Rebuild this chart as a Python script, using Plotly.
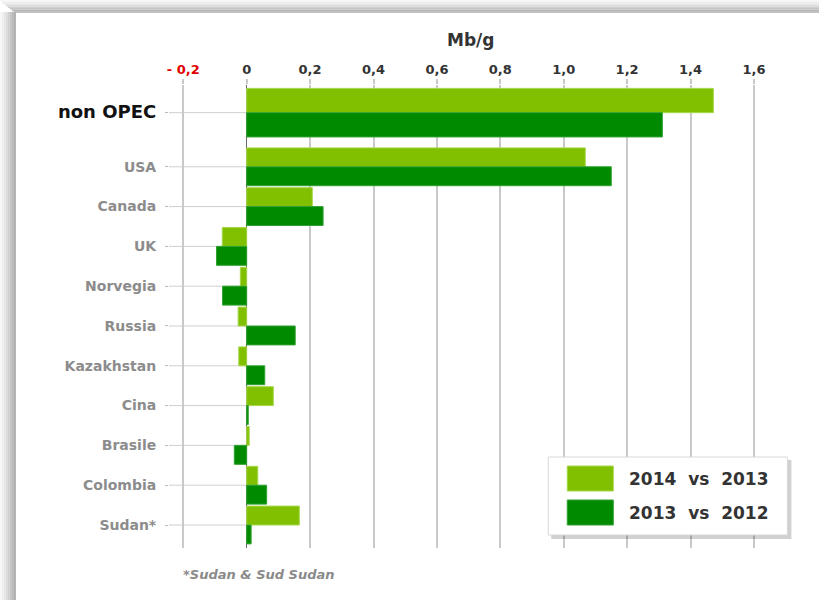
import plotly.graph_objects as go

# ---- data ----
categories = ["non OPEC", "USA", "Canada", "UK", "Norvegia", "Russia",
              "Kazakhstan", "Cina", "Brasile", "Colombia", "Sudan*"]
series_names = ["2014  vs  2013", "2013  vs  2012"]
v_2014_vs_2013 = [1.472, 1.068, 0.207, -0.077, -0.020, -0.027, -0.025, 0.084, 0.008, 0.035, 0.166]
v_2013_vs_2012 = [1.311, 1.150, 0.241, -0.095, -0.076, 0.153, 0.057, 0.005, -0.039, 0.063, 0.014]
x_tickvals = [-0.2, 0, 0.2, 0.4, 0.6, 0.8, 1.0, 1.2, 1.4, 1.6]
x_ticklabels = ["- 0,2", "0", "0,2", "0,4", "0,6", "0,8", "1,0", "1,2", "1,4", "1,6"]
footnote = "*Sudan & Sud Sudan"
axis_title = "Mb/g"

# ---- layout helpers ----
W, H = 819, 600
L, R, T, B = 169, 791.6, 85, 548
PW, PH = R - L, B - T
def px(xp): return (xp - L) / PW
def py(yp): return (B - yp) / PH

LIGHT = "#80c000"
DARK = "#008a00"

n = len(categories)
# positions: bottom category at 0, extra gap above the total row
pos = []
for i, c in enumerate(categories):
    p = n - 1 - i
    if i == 0:
        p = (n - 2) + 1.36
    pos.append(p)
widths = [0.61 if i == 0 else 0.475 for i in range(n)]

fig = go.Figure()
fig.add_trace(go.Bar(
    y=pos, x=v_2014_vs_2013, orientation="h", name=series_names[0],
    width=widths, offset=[0] * n,
    marker=dict(color=LIGHT, line=dict(color="#a6d84a", width=1)),
    showlegend=False))
fig.add_trace(go.Bar(
    y=pos, x=v_2013_vs_2012, orientation="h", name=series_names[1],
    width=widths, offset=[-w for w in widths],
    marker=dict(color=DARK, line=dict(color="#2fa02f", width=1)),
    showlegend=False))

xmin, xmax = -0.245, 1.72
ticktext_y = []
for i, c in enumerate(categories):
    if i == 0:
        ticktext_y.append('<span style="font-size:18px;color:#111111">%s</span>' % c)
    else:
        ticktext_y.append(c)

xt = []
for v, t in zip(x_tickvals, x_ticklabels):
    if v < 0:
        xt.append('<span style="color:#e00000">%s</span>' % t)
    else:
        xt.append(t)

shapes = []
# frame shadow (left and top)
grays = ["#f7f7f7", "#efefef", "#e6e6e6", "#dcdcdc", "#d0d0d0", "#c4c4c4", "#b8b8b8", "#aeaeae"]
for k, g in enumerate(grays):
    shapes.append(dict(type="rect", xref="paper", yref="paper", layer="below",
                       x0=px(k * 2), x1=px(k * 2 + 2), y0=py(12), y1=py(H),
                       fillcolor=g, line=dict(width=0)))
    shapes.append(dict(type="rect", xref="paper", yref="paper", layer="below",
                       x0=px(k * 2), x1=px(W), y0=py(k * 1.6), y1=py(k * 1.6 + 1.6),
                       fillcolor=g, line=dict(width=0)))
# category stub lines
for p in pos:
    shapes.append(dict(type="line", xref="x", yref="y", layer="below",
                       x0=xmin, x1=0, y0=p, y1=p,
                       line=dict(color="#cfcfcf", width=1)))
# custom legend box with shadow
shapes.append(dict(type="rect", xref="paper", yref="paper",
                   x0=px(551), x1=px(791), y0=py(539), y1=py(460),
                   fillcolor="rgba(0,0,0,0.18)", line=dict(width=0)))
shapes.append(dict(type="rect", xref="paper", yref="paper",
                   x0=px(548), x1=px(787), y0=py(535), y1=py(457),
                   fillcolor="white", line=dict(color="#d8d8d8", width=1)))
shapes.append(dict(type="rect", xref="paper", yref="paper",
                   x0=px(567), x1=px(613), y0=py(491), y1=py(466),
                   fillcolor=LIGHT, line=dict(color="#a6d84a", width=1)))
shapes.append(dict(type="rect", xref="paper", yref="paper",
                   x0=px(567), x1=px(613), y0=py(525), y1=py(500),
                   fillcolor=DARK, line=dict(color="#2fa02f", width=1)))

annotations = [
    dict(text="<b>%s</b>" % axis_title, xref="paper", yref="paper",
         x=px(470), y=py(40), showarrow=False, xanchor="center", yanchor="middle",
         font=dict(size=17, color="#333333", family="DejaVu Sans")),
    dict(text="<b><i>%s</i></b>" % footnote, xref="paper", yref="paper",
         x=px(259), y=py(574), showarrow=False, xanchor="center", yanchor="middle",
         font=dict(size=13, color="#8a8a8a", family="DejaVu Sans")),
]
for k, nm in enumerate(series_names):
    annotations.append(dict(
        text="<b>%s</b>" % nm.replace(" ", "\u00a0"), xref="paper", yref="paper",
        x=px(627), y=py(479 + 34 * k), showarrow=False, xanchor="left", yanchor="middle",
        font=dict(size=17, color="#333333", family="DejaVu Sans")))

fig.update_layout(
    width=W, height=H, autosize=False,
    margin=dict(l=L, r=W - R, t=T, b=H - B, pad=0),
    paper_bgcolor="white", plot_bgcolor="white",
    barmode="overlay",
    font=dict(family="DejaVu Sans", color="#333333"),
    shapes=shapes, annotations=annotations,
    showlegend=False,
    xaxis=dict(
        side="top", range=[xmin, xmax], tickvals=x_tickvals,
        ticktext=["<b>%s</b>" % t for t in xt],
        tickfont=dict(size=13, color="#333333", family="DejaVu Sans"),
        showgrid=True, gridcolor="#c9c9c9", gridwidth=1.5,
        zeroline=True, zerolinecolor="#6a6a6a", zerolinewidth=1,
        ticks="outside", ticklen=5, tickcolor="#c9c9c9", tickwidth=1.5,
        showline=False, fixedrange=True),
    yaxis=dict(
        range=[-0.578, 11.055], tickvals=pos,
        ticktext=["<b>%s</b>" % t for t in ticktext_y],
        tickfont=dict(size=14, color="#8c8c8c", family="DejaVu Sans"),
        showgrid=False, zeroline=False, showline=False,
        ticks="outside", ticklen=3, tickcolor="#bbbbbb",
        ticklabelstandoff=6, fixedrange=True),
)

fig.write_html("out.html", config={"displayModeBar": False},
               post_script="document.body.style.margin='0';document.body.style.overflow='hidden';")
